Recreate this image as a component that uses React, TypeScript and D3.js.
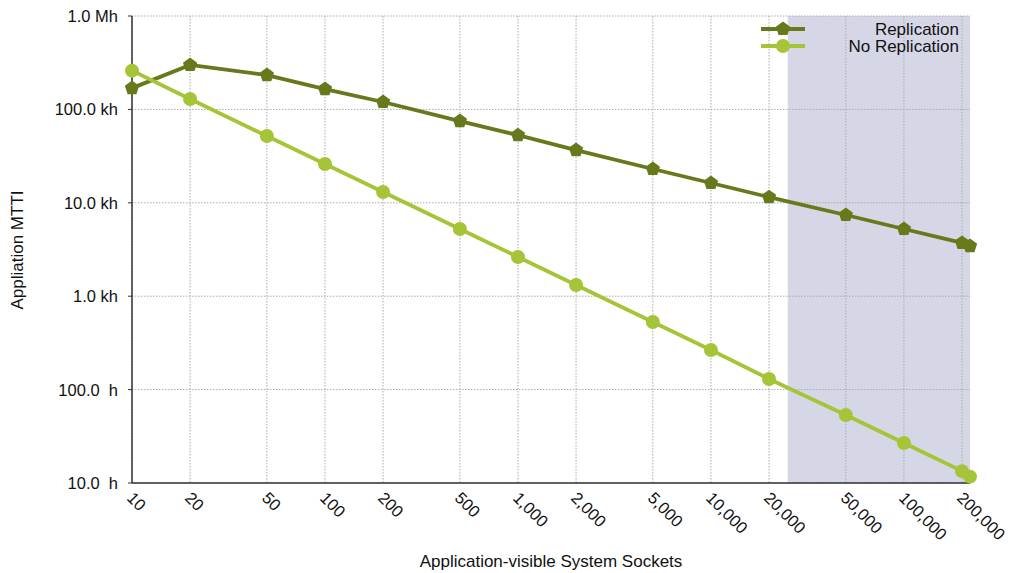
import React from "react";
import * as d3 from "d3";

const sockets = [10, 20, 50, 100, 200, 500, 1000, 2000, 5000, 10000, 20000, 50000, 100000, 200000, 220000];
const replication = [169000, 299000, 233000, 165000, 120000, 75000, 53000, 36700, 23000, 16300, 11500, 7400, 5240, 3720, 3440];
const noReplication = [260000, 129000, 51900, 26000, 13060, 5240, 2630, 1318, 529, 265, 130, 53.5, 26.8, 13.4, 11.7];

const xTicks = [10, 20, 50, 100, 200, 500, 1000, 2000, 5000, 10000, 20000, 50000, 100000, 200000];
const xTickLabels = ["10", "20", "50", "100", "200", "500", "1,000", "2,000", "5,000", "10,000", "20,000", "50,000", "100,000", "200,000"];
const yTicks = [10, 100, 1000, 10000, 100000, 1000000];
const yTickLabels = ["10.0  h", "100.0  h", "1.0 kh", "10.0 kh", "100.0 kh", "1.0 Mh"];
const shadeStart = 25000;

const W = 1011, H = 573;
const L = 132, R = 970, T = 16, B = 483;
const darkColor = "#667a1c";
const lightColor = "#a6c437";
const font = "'Liberation Sans', Arial, sans-serif";

function pentagon(cx: number, cy: number, r: number) {
  const pts: string[] = [];
  for (let i = 0; i < 5; i++) {
    const a = -Math.PI / 2 + (i * 2 * Math.PI) / 5;
    pts.push(`${cx + r * Math.cos(a)},${cy + r * Math.sin(a)}`);
  }
  return pts.join(" ");
}

export default function App() {
  const x = d3.scaleLog().domain([10, sockets[sockets.length - 1]]).range([L, R]);
  const y = d3.scaleLog().domain([10, 1000000]).range([B, T]);
  const line = d3.line<number>().x((_, i) => x(sockets[i])).y((d) => y(d));

  return (
    <svg width={W} height={H} style={{ position: "absolute", left: 0, top: 0, background: "#fff" }} fontFamily={font}>
      <rect x={x(shadeStart)} y={T} width={R - x(shadeStart)} height={B - T} fill="#d5d7e7" />
      {yTicks.map((t) => (
        <line key={"gy" + t} x1={L} x2={R} y1={y(t)} y2={y(t)} stroke="#aaa" strokeDasharray="1.5,1.5" strokeWidth={1} />
      ))}
      {xTicks.map((t) => (
        <line key={"gx" + t} x1={x(t)} x2={x(t)} y1={T} y2={B} stroke="#aaa" strokeDasharray="1.5,1.5" strokeWidth={1} />
      ))}
      <line x1={L} x2={L} y1={T} y2={B} stroke="#333" strokeWidth={1.5} />
      <line x1={L} x2={R} y1={B} y2={B} stroke="#333" strokeWidth={1.5} />
      {yTicks.map((t, i) => (
        <g key={"ty" + t}>
          <line x1={L - 4} x2={L} y1={y(t)} y2={y(t)} stroke="#333" />
          <text x={118} y={y(t) + 6} textAnchor="end" fontSize={16.5} fill="#111" style={{ whiteSpace: "pre" }}>
            {yTickLabels[i]}
          </text>
        </g>
      ))}
      {xTicks.map((t, i) => (
        <text key={"tx" + t} transform={`translate(${x(t) - 6},${B + 16}) rotate(45)`} fontSize={16.5} fill="#111">
          {xTickLabels[i]}
        </text>
      ))}
      <path d={line(replication) || ""} fill="none" stroke={darkColor} strokeWidth={3.8} />
      <path d={line(noReplication) || ""} fill="none" stroke={lightColor} strokeWidth={3.8} />
      {replication.map((v, i) => (
        <polygon key={"pr" + i} points={pentagon(x(sockets[i]), y(v), 7.5)} fill={darkColor} />
      ))}
      {noReplication.map((v, i) => (
        <circle key={"pn" + i} cx={x(sockets[i])} cy={y(v)} r={7} fill={lightColor} />
      ))}
      <g>
        <line x1={761} x2={805} y1={29} y2={29} stroke={darkColor} strokeWidth={3.8} />
        <polygon points={pentagon(783, 29, 7.5)} fill={darkColor} />
        <text x={959} y={35} textAnchor="end" fontSize={17} fill="#111">Replication</text>
        <line x1={761} x2={805} y1={46} y2={46} stroke={lightColor} strokeWidth={3.8} />
        <circle cx={783} cy={46} r={7} fill={lightColor} />
        <text x={959} y={52} textAnchor="end" fontSize={17} fill="#111">No Replication</text>
      </g>
      <text transform={`translate(23,250) rotate(-90)`} textAnchor="middle" fontSize={17} fill="#111">Appliation MTTI</text>
      <text x={551} y={567} textAnchor="middle" fontSize={17} fill="#111">Application-visible System Sockets</text>
    </svg>
  );
}
